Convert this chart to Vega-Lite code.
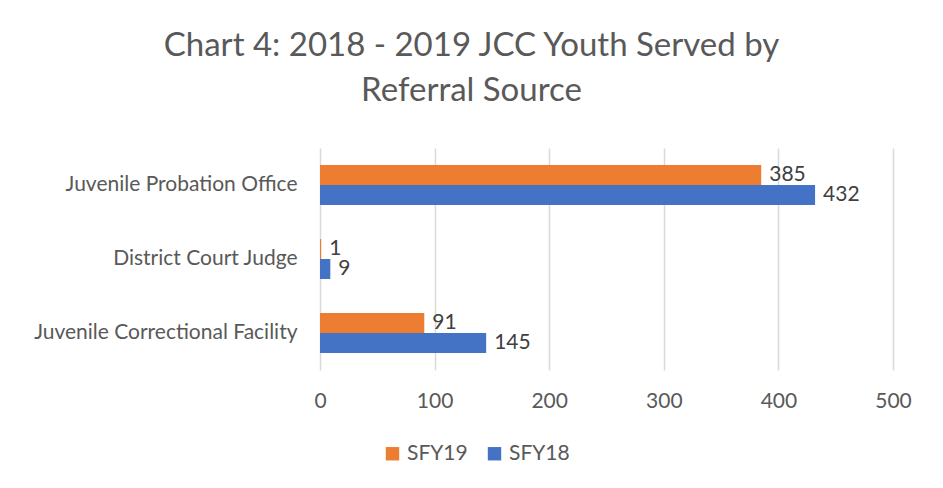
{
  "$schema": "https://vega.github.io/schema/vega-lite/v6.json",
  "width": 573,
  "height": 222,
  "autosize": {"type": "none"},
  "padding": {"left": 320, "top": 148, "right": 50, "bottom": 118},
  "background": "white",
  "title": {
    "text": ["Chart 4: 2018 - 2019 JCC Youth Served by", "Referral Source"],
    "anchor": "middle",
    "dx": -135,
    "offset": 40,
    "font": "Lato",
    "fontSize": 33,
    "fontWeight": "normal",
    "color": "#595959",
    "lineHeight": 45
  },
  "data": {
    "values": [
      {"source": "Juvenile Probation Office", "year": "SFY19", "value": 385},
      {"source": "Juvenile Probation Office", "year": "SFY18", "value": 432},
      {"source": "District Court Judge", "year": "SFY19", "value": 1},
      {"source": "District Court Judge", "year": "SFY18", "value": 9},
      {"source": "Juvenile Correctional Facility", "year": "SFY19", "value": 91},
      {"source": "Juvenile Correctional Facility", "year": "SFY18", "value": 145}
    ]
  },
  "encoding": {
    "y": {
      "field": "source",
      "type": "nominal",
      "sort": ["Juvenile Probation Office", "District Court Judge", "Juvenile Correctional Facility"],
      "scale": {"paddingInner": 0.46, "paddingOuter": 0.23},
      "axis": {"title": null, "domain": false, "ticks": false, "labelPadding": 23, "labelLimit": 400, "labelFont": "Lato", "labelFontSize": 21, "labelColor": "#595959"}
    },
    "yOffset": {"field": "year", "type": "nominal", "sort": ["SFY19", "SFY18"]},
    "x": {
      "field": "value",
      "type": "quantitative",
      "scale": {"domain": [0, 500]},
      "axis": {"title": null, "domain": false, "ticks": false, "tickCount": 5, "labelFlush": false, "labelPadding": 20, "labelFont": "Lato", "labelFontSize": 21, "labelColor": "#595959", "gridColor": "#d9d9d9", "gridWidth": 1.5}
    }
  },
  "layer": [
    {
      "mark": {"type": "bar"},
      "encoding": {
        "color": {
          "field": "year",
          "type": "nominal",
          "sort": ["SFY19", "SFY18"],
          "scale": {"domain": ["SFY19", "SFY18"], "range": ["#ED7D31", "#4472C4"]},
          "legend": {
            "title": null,
            "orient": "none",
            "direction": "horizontal",
            "legendX": 62,
            "legendY": 295,
            "symbolType": "square",
            "symbolSize": 180,
            "symbolStrokeWidth": 0,
            "labelFont": "Lato",
            "labelFontSize": 21,
            "labelColor": "#595959",
            "columnPadding": 16
          }
        }
      }
    },
    {
      "mark": {"type": "text", "align": "left", "baseline": "middle", "dx": 8, "font": "Lato", "fontSize": 21, "color": "#404040"},
      "encoding": {"text": {"field": "value", "type": "quantitative"}}
    }
  ],
  "config": {"view": {"stroke": null}}
}
